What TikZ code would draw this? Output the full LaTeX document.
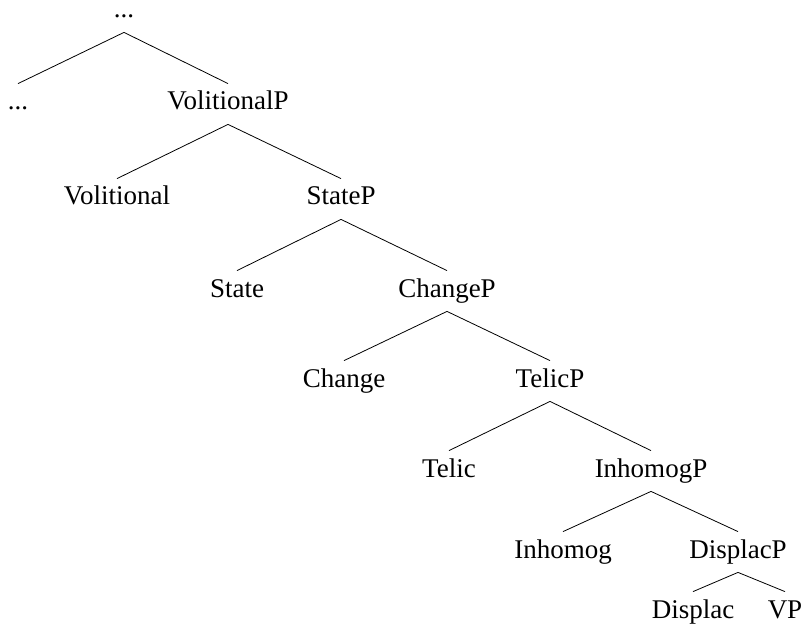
\documentclass[tikz,border=0pt]{standalone}
\usepackage{fontspec}
\setmainfont{Liberation Serif}
\usepackage{xcolor}
\usepackage{tikz}

\tikzset{lbl/.style={anchor=base,inner sep=0pt,text height=13pt,text depth=7pt,font=\fontsize{13.5pt}{16pt}\selectfont}}

\begin{document}
\begin{tikzpicture}[x=0.5pt,y=-0.5pt]
      \useasboundingbox (0,0) rectangle (803,626);
      \node[lbl,text height=4pt] (A) at (124,18) {...};
      \node[lbl] (B) at (18,110) {...};
      \node[lbl] (C) at (228,110) {VolitionalP};
      \node[lbl] (D) at (117,205) {Volitional};
      \node[lbl] (E) at (341,205) {StateP};
      \node[lbl] (F) at (237,297) {State};
      \node[lbl] (G) at (447,297) {ChangeP};
      \node[lbl] (H) at (344,387) {Change};
      \node[lbl] (I) at (550,387) {TelicP};
      \node[lbl] (J) at (449,477) {Telic};
      \node[lbl] (K) at (651,477) {InhomogP};
      \node[lbl] (L) at (563,558) {Inhomog};
      \node[lbl] (M) at (738,558) {DisplacP};
      \node[lbl] (N) at (693,618) {Displac};
      \node[lbl] (O) at (785,618) {VP};
        % branches
      \draw (A.south) -- (B.north);
      \draw (A.south) -- (C.north);
      \draw (C.south) -- (D.north);
      \draw (C.south) -- (E.north);
      \draw (E.south) -- (F.north);
      \draw (E.south) -- (G.north);
      \draw (G.south) -- (H.north);
      \draw (G.south) -- (I.north);
      \draw (I.south) -- (J.north);
      \draw (I.south) -- (K.north);
      \draw (K.south) -- (L.north);
      \draw (K.south) -- (M.north);
      \draw (M.south) -- (N.north);
      \draw (M.south) -- (O.north);
    \end{tikzpicture}
\end{document}
